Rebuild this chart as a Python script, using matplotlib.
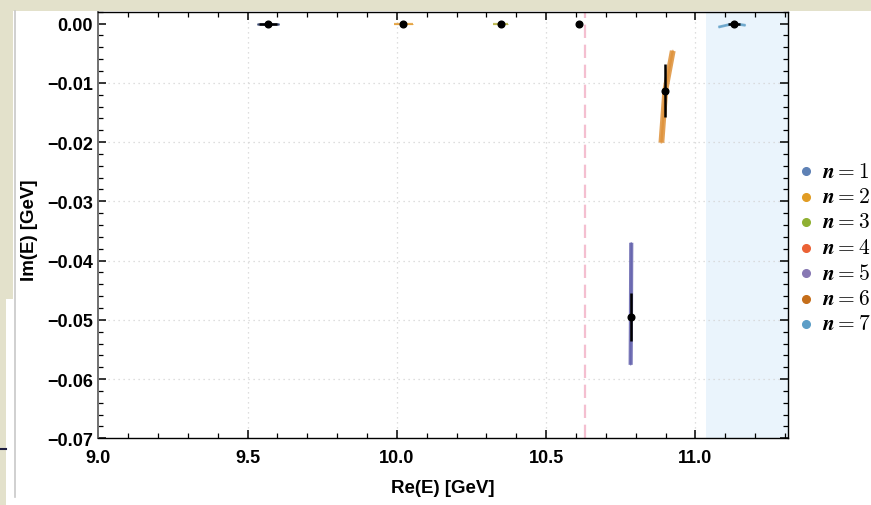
import numpy as np
import matplotlib.pyplot as plt
from matplotlib.lines import Line2D
from matplotlib.patches import Rectangle
from matplotlib.ticker import MultipleLocator

plt.rcParams['font.family'] = ['Liberation Sans', 'DejaVu Sans']
plt.rcParams['font.weight'] = 'bold'
plt.rcParams['mathtext.fontset'] = 'cm'

# pole positions (central values) and their errors
labels = ['n = 1', 'n = 2', 'n = 3', 'n = 4', 'n = 5', 'n = 6', 'n = 7']
colors = ['#5E81B5', '#E19C24', '#8FB032', '#EB6235', '#8778B3', '#C56E1A', '#5D9EC7']
cloud_colors = ['#2A3A66', '#E39A2E', '#B5B03A', '#EB6235', '#5A58A8', '#DC8A2C', '#5D9EC7']
re_E = [9.568, 10.022, 10.348, 10.611, 10.784, 10.899, 11.128]
im_E = [0.0, 0.0, 0.0, 0.0, -0.0495, -0.0113, 0.0]
re_err = [0.030, 0.004, 0.004, 0.002, 0.001, 0.002, 0.020]
im_err = [0.0, 0.0, 0.0, 0.0, 0.0040, 0.0045, 0.0003]

# extent of the sampled clouds (start and end points)
cloud_re_lo = [9.530, 9.990, 10.323, 10.605, 10.783, 10.886, 11.077]
cloud_re_hi = [9.605, 10.054, 10.373, 10.617, 10.785, 10.924, 11.168]
cloud_im_lo = [0.0, 0.0, 0.0, 0.0, -0.0576, -0.0201, -0.0006]
cloud_im_hi = [0.0, 0.0, 0.0, 0.0, -0.0370, -0.0046, -0.0003]
cloud_lw = [1.8, 1.6, 1.6, 1.2, 3.0, 4.2, 2.0]

threshold = 10.63
open_region = 11.035
x_range = (9.0, 11.31)
y_range = (-0.07, 0.002)

W, H = 871, 506
fig = plt.figure(figsize=(W / 100, H / 100), dpi=100)
fig.patch.set_facecolor('white')

# page background around the figure
beige = '#E3E1CB'
fig.add_artist(Rectangle((0, 1 - 12 / H), 1, 12 / H, transform=fig.transFigure,
                         facecolor=beige, edgecolor='none', zorder=0))
fig.add_artist(Rectangle((0, 1 - 300 / H), 13 / W, 300 / H, transform=fig.transFigure,
                         facecolor=beige, edgecolor='none', zorder=0))
fig.add_artist(Rectangle((0, 0), 6 / W, 1 - 300 / H, transform=fig.transFigure,
                         facecolor=beige, edgecolor='none', zorder=0))
fig.add_artist(Line2D([14.5 / W, 14.5 / W], [1 - 498 / H, 1 - 12 / H],
                      transform=fig.transFigure, color='#C8C8C8', lw=1.2))
fig.add_artist(Line2D([0, 6 / W], [1 - 450 / H, 1 - 450 / H],
                      transform=fig.transFigure, color='#1E1E40', lw=1.5))

ax = fig.add_axes([98.3 / W, (H - 439.3) / H, (788 - 98.3) / W, (439.3 - 12.7) / H])

ax.axvspan(open_region, x_range[1], color='#EAF4FC', lw=0, zorder=0)
ax.axvline(threshold, color='#F4BFD0', lw=1.6, dashes=(6, 3), zorder=1)

for yv in np.arange(-0.06, 0.0, 0.01):
    ax.axhline(yv, color='#D4D4D4', lw=0.9, dashes=(1, 3), zorder=0.5)
for xv in [9.5, 10.0, 10.5, 11.0]:
    ax.axvline(xv, color='#D4D4D4', lw=0.9, dashes=(1, 3), zorder=0.5)

for i in range(len(labels)):
    xs = [cloud_re_lo[i], re_E[i], cloud_re_hi[i]]
    ys = [cloud_im_lo[i], im_E[i], cloud_im_hi[i]]
    ax.plot(xs, ys, color=cloud_colors[i], lw=cloud_lw[i] * 0.4, alpha=0.55,
            solid_capstyle='round', zorder=2)
    ax.plot(xs[:2], ys[:2], color=cloud_colors[i], lw=cloud_lw[i], alpha=0.8,
            solid_capstyle='butt', zorder=2)
    ax.plot(xs[1:], ys[1:], color=cloud_colors[i], lw=cloud_lw[i], alpha=0.8,
            solid_capstyle='butt', zorder=2)

ax.errorbar(re_E, im_E, xerr=re_err, yerr=im_err, fmt='o', color='black',
            ms=4.8, elinewidth=1.8, capsize=0, zorder=3)

ax.set_xlim(*x_range)
ax.set_ylim(*y_range)
ax.xaxis.set_major_locator(MultipleLocator(0.5))
ax.xaxis.set_minor_locator(MultipleLocator(0.1))
ax.yaxis.set_major_locator(MultipleLocator(0.01))
ax.yaxis.set_minor_locator(MultipleLocator(0.002))
ax.xaxis.set_major_formatter(lambda v, p: f'{v:.1f}')
ax.yaxis.set_major_formatter(lambda v, p: f'{v:.2f}'.replace('-', '\u2212') if abs(v) > 1e-9 else '0.00')
ax.tick_params(which='both', direction='in', top=True, right=True,
               labelsize=13, colors='black')
ax.tick_params(axis='x', pad=8)
ax.tick_params(axis='y', pad=4)
ax.tick_params(which='major', length=6, width=1.1)
ax.tick_params(which='minor', length=3.5, width=0.9)
for lab in ax.get_xticklabels() + ax.get_yticklabels():
    lab.set_fontweight('bold')

for side in ['top', 'bottom', 'right']:
    ax.spines[side].set_color('black')
    ax.spines[side].set_linewidth(1.0)
ax.spines['left'].set_color('#707070')
ax.spines['left'].set_linewidth(1.4)

fig.text(443 / W, 1 - 489 / H, 'Re(E) [GeV]', ha='center', va='center',
         fontsize=13.5, fontweight='bold')
fig.text(30 / W, 1 - 230 / H, 'Im(E) [GeV]', ha='center', va='center',
         rotation=90, fontsize=13.5, fontweight='bold')

# legend, drawn entry by entry to the right of the frame
for i, lab in enumerate(labels):
    yy = 1 - (172 + 25.5 * i) / H
    fig.add_artist(Line2D([806 / W], [yy], transform=fig.transFigure, marker='o',
                          ms=5.5, color=colors[i], lw=0))
    n_val = lab.split('=')[1].strip()
    fig.text(822 / W, yy, r'$\boldsymbol{n = ' + n_val + '}$', ha='left', va='center',
             fontsize=15.5)

fig.savefig('out.png', dpi=100)
